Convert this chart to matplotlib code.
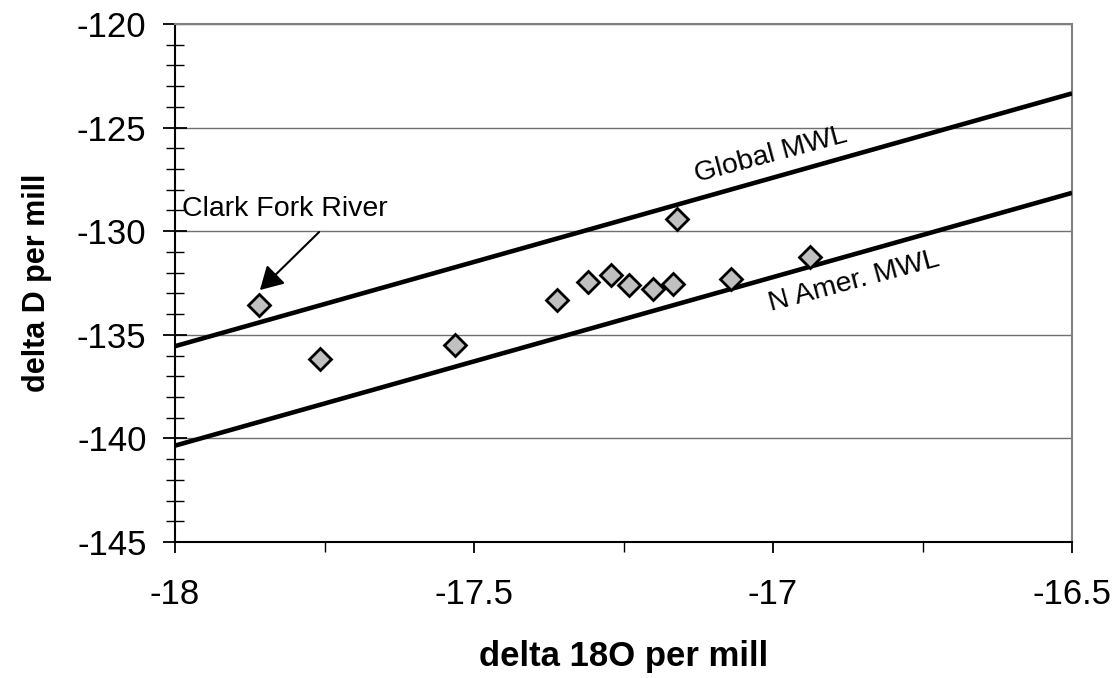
import matplotlib
matplotlib.use("Agg")
import matplotlib.pyplot as plt
from matplotlib.ticker import MultipleLocator

# Data
d18o = [-17.86, -17.758, -17.532, -17.362, -17.309, -17.271, -17.241, -17.200, -17.168, -17.161, -17.071, -16.938]
dD = [-133.55, -136.16, -135.50, -133.32, -132.47, -132.11, -132.58, -132.79, -132.56, -129.42, -132.32, -131.26]

line_x = [-18.0, -16.5]
gmwl_y = [-135.55, -123.35]
namwl_y = [-140.35, -128.15]

xticks = [-18, -17.5, -17, -16.5]
xtick_labels = ["-18", "-17.5", "-17", "-16.5"]
yticks = [-145, -140, -135, -130, -125, -120]

plt.rcParams['font.family'] = ['Liberation Sans', 'DejaVu Sans']
plt.rcParams['axes.unicode_minus'] = False

fig = plt.figure(figsize=(11.19, 6.78), dpi=100)
W, H = 1119, 678
ax = fig.add_axes([175 / W, 1 - 542 / H, (1072 - 175) / W, (542 - 24) / H])

ax.set_xlim(-18, -16.5)
ax.set_ylim(-145, -120)

for y in yticks[1:]:
    ax.axhline(y, color='#707070', lw=1.0, zorder=1)

ax.plot(line_x, gmwl_y, color='black', lw=3.3, solid_capstyle='butt', zorder=3)
ax.plot(line_x, namwl_y, color='black', lw=3.3, solid_capstyle='butt', zorder=3)

ax.plot(d18o, dD, linestyle='none', marker='D', markersize=11.5,
        markerfacecolor='#C0C0C0', markeredgecolor='black', markeredgewidth=2, zorder=4, clip_on=False)

ax.text(-17.004, -126.32, "Global MWL", rotation=15, ha='center', va='center',
        fontsize=20.5, rotation_mode='anchor')
ax.text(-16.865, -132.44, "N Amer. MWL", rotation=15, ha='center', va='center',
        fontsize=20.5, rotation_mode='anchor')

ax.text(-17.988, -128.93, "Clark Fork River", ha='left', va='center', fontsize=20.5)
ax.annotate("", xy=(-17.858, -132.84), xytext=(-17.759, -130.04),
            arrowprops=dict(arrowstyle='-|>,head_length=0.7,head_width=0.4', color='black', lw=1.5,
                            shrinkA=0, shrinkB=0, mutation_scale=20))

ax.set_xticks(xticks)
ax.set_xticklabels(xtick_labels)
ax.set_yticks(yticks)
ax.xaxis.set_minor_locator(MultipleLocator(0.25))
ax.yaxis.set_minor_locator(MultipleLocator(1))

ax.tick_params(axis='y', which='major', direction='inout', length=17, width=1.3, labelsize=25, pad=12)
ax.tick_params(axis='y', which='minor', direction='inout', length=13, width=1.0)
ax.tick_params(axis='x', which='major', direction='out', length=8, width=1.3, labelsize=25, pad=18)
ax.tick_params(axis='x', which='minor', direction='out', length=7, width=1.0)

for s in ['left', 'bottom']:
    ax.spines[s].set_color('black')
    ax.spines[s].set_linewidth(1.5)
for s in ['top', 'right']:
    ax.spines[s].set_color('#808080')
    ax.spines[s].set_linewidth(1.5)

ax.set_xlabel("delta 18O per mill", fontsize=25, fontweight='bold', labelpad=21)
ax.set_ylabel("delta D per mill", fontsize=22, fontweight='bold', labelpad=18)

fig.savefig("out.png", dpi=100)
